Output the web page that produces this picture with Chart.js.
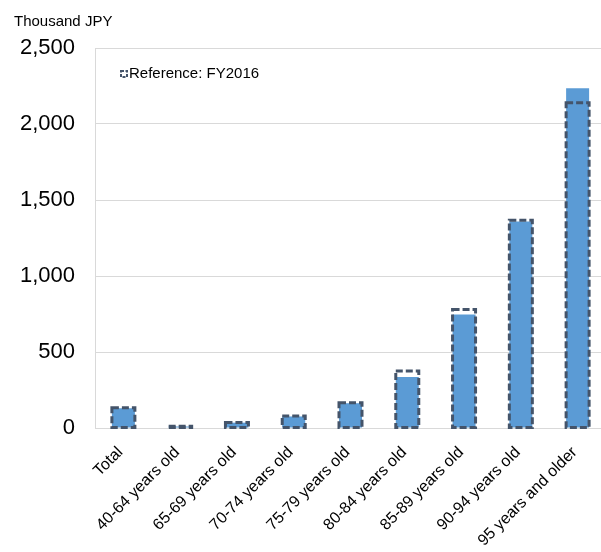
<!DOCTYPE html>
<html>
<head>
<meta charset="utf-8">
<script src="https://cdn.jsdelivr.net/npm/chart.js@4.4.1/dist/chart.umd.min.js"></script>
<style>
  html, body { margin: 0; padding: 0; background: #fff; overflow: hidden; }
  #wrap { position: absolute; left: 0; top: 0; width: 607px; height: 552px; }
</style>
</head>
<body>
<div id="wrap"><canvas id="c" width="607" height="552"></canvas></div>
<script>
// Per-capita cost by age group, thousand JPY
const ageGroups = [
  'Total',
  '40-64 years old',
  '65-69 years old',
  '70-74 years old',
  '75-79 years old',
  '80-84 years old',
  '85-89 years old',
  '90-94 years old',
  '95 years and older'
];
const perCapitaCost = [130, 10, 35, 76, 163, 336, 747, 1358, 2236];
const referenceFY2016 = [134, 11, 36, 79, 166, 375, 780, 1366, 2140];
const yTickValues = [0, 500, 1000, 1500, 2000, 2500];

const FONT = '"Liberation Sans", Arial, Helvetica, sans-serif';
const BAR_BLUE = '#5B9BD5';
const OUTLINE = '#44546A';
const GRID = '#D9D9D9';

// Dashed outlines for the FY2016 reference bars, drawn on the bar elements' geometry
const dashedOutline = {
  id: 'dashedOutline',
  afterDatasetsDraw(chart) {
    const meta = chart.getDatasetMeta(1);
    const ctx = chart.ctx;
    ctx.save();
    ctx.strokeStyle = OUTLINE;
    ctx.lineWidth = 3;
    ctx.setLineDash([7, 3]);
    meta.data.forEach(bar => {
      const { x, y, base, width } = bar.getProps(['x', 'y', 'base', 'width'], true);
      ctx.strokeRect(x - width / 2, y, width, base - y);
    });
    ctx.restore();
  }
};

// Unit caption and the reference legend entry
const captions = {
  id: 'captions',
  afterDraw(chart) {
    const ctx = chart.ctx;
    const area = chart.chartArea;
    ctx.save();
    ctx.fillStyle = '#000';
    ctx.textBaseline = 'middle';
    ctx.font = '15px ' + FONT;
    ctx.fillText('Thousand JPY', 14, 22);

    const lx = area.left + 26;
    const ly = area.top + 26;
    ctx.strokeStyle = OUTLINE;
    ctx.lineWidth = 2;
    ctx.setLineDash([3, 1.5]);
    ctx.strokeRect(lx, ly - 3, 6, 6);
    ctx.setLineDash([]);
    ctx.font = '15px ' + FONT;
    ctx.fillText(chart.data.datasets[1].label, lx + 8, ly);
    ctx.restore();
  }
};

new Chart(document.getElementById('c'), {
  type: 'bar',
  data: {
    labels: ageGroups,
    datasets: [
      {
        label: 'Per capita cost',
        data: perCapitaCost,
        backgroundColor: BAR_BLUE,
        borderWidth: 0,
        grouped: false,
        categoryPercentage: 1,
        barPercentage: 0.405
      },
      {
        label: 'Reference: FY2016',
        data: referenceFY2016,
        backgroundColor: 'rgba(0,0,0,0)',
        borderWidth: 0,
        grouped: false,
        categoryPercentage: 1,
        barPercentage: 0.405
      }
    ]
  },
  options: {
    responsive: false,
    animation: false,
    devicePixelRatio: 1,
    layout: { padding: { top: 48, left: 0, right: 1, bottom: 0 } },
    plugins: {
      legend: { display: false },
      tooltip: { enabled: false },
      title: { display: false }
    },
    scales: {
      x: {
        grid: { display: false, drawTicks: false },
        border: { display: true, color: GRID, width: 1 },
        ticks: {
          color: '#000',
          font: { family: FONT, size: 16 },
          minRotation: 45,
          maxRotation: 45,
          autoSkip: false,
          padding: 15,
          labelOffset: -3
        },
        afterFit(scale) { scale.height = 124; }
      },
      y: {
        min: 0,
        max: 2500,
        afterBuildTicks(scale) { scale.ticks = yTickValues.map(v => ({ value: v })); },
        ticks: {
          color: '#000',
          font: { family: FONT, size: 22 },
          padding: 20,
          callback: v => v.toLocaleString('en-US')
        },
        grid: { color: GRID, lineWidth: 1, drawTicks: false },
        border: { display: true, color: GRID, width: 1 },
        afterFit(scale) { scale.width = 95; }
      }
    }
  },
  plugins: [dashedOutline, captions]
});
</script>
</body>
</html>
